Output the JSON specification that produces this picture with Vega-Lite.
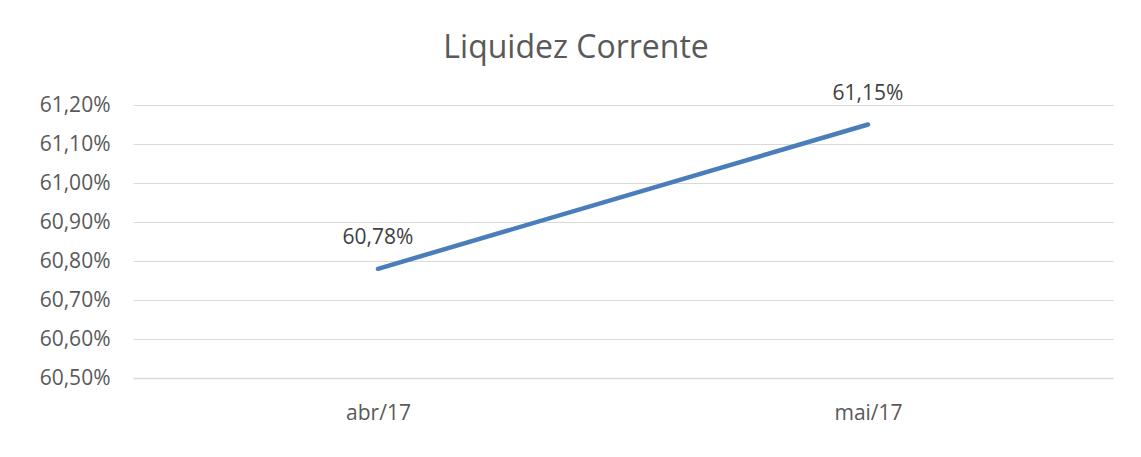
{
  "$schema": "https://vega.github.io/schema/vega-lite/v6.json",
  "width": 980,
  "height": 273,
  "autosize": {"type": "none"},
  "padding": {"left": 133, "top": 105, "right": 28, "bottom": 79},
  "background": "white",
  "title": {
    "text": "Liquidez Corrente",
    "font": "Open Sans",
    "fontSize": 32,
    "fontWeight": "normal",
    "color": "#595959",
    "anchor": "middle",
    "frame": "bounds",
    "offset": 18
  },
  "config": {
    "view": {"stroke": null},
    "font": "Open Sans"
  },
  "data": {
    "values": [
      {"mes": "abr/17", "valor": 60.78, "rotulo": "60,78%"},
      {"mes": "mai/17", "valor": 61.15, "rotulo": "61,15%"}
    ]
  },
  "encoding": {
    "x": {
      "field": "mes",
      "type": "nominal",
      "sort": null,
      "scale": {"paddingInner": 0, "paddingOuter": 0},
      "axis": {
        "title": null,
        "labelAngle": 0,
        "labelFont": "Open Sans",
        "labelFontSize": 21,
        "labelColor": "#595959",
        "labelPadding": 24,
        "ticks": false,
        "domainColor": "#d9d9d9",
        "domainWidth": 1.5,
        "grid": false
      }
    },
    "y": {
      "field": "valor",
      "type": "quantitative",
      "scale": {"domain": [60.5, 61.2], "nice": false, "zero": false},
      "axis": {
        "title": null,
        "values": [60.5, 60.6, 60.7, 60.8, 60.9, 61.0, 61.1, 61.2],
        "labelExpr": "replace(format(datum.value, '.2f'), '.', ',') + '%'",
        "labelFont": "Open Sans",
        "labelFontSize": 21,
        "labelColor": "#595959",
        "labelPadding": 23,
        "ticks": false,
        "domain": false,
        "grid": true,
        "gridColor": "#d9d9d9",
        "gridWidth": 1.2
      }
    }
  },
  "layer": [
    {
      "mark": {"type": "line", "color": "#4a7ebb", "strokeWidth": 4.5, "strokeCap": "round"}
    },
    {
      "mark": {"type": "text", "font": "Open Sans", "fontSize": 21, "color": "#404040", "dy": -31, "baseline": "middle"},
      "encoding": {"text": {"field": "rotulo"}}
    }
  ]
}
